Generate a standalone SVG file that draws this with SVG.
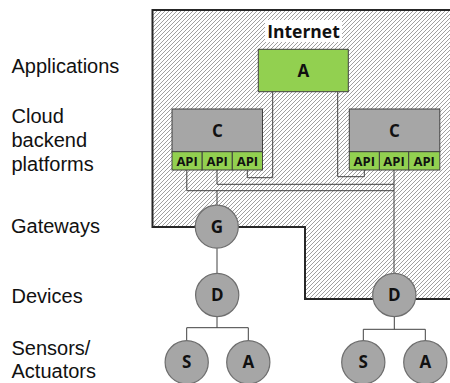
<svg xmlns="http://www.w3.org/2000/svg" width="450" height="383" viewBox="0 0 450 383">
  <defs>
    <pattern id="hatch" width="4" height="4" patternUnits="userSpaceOnUse">
      <rect width="4" height="4" fill="#ffffff"/>
      <path d="M-1,1 L1,-1 M0,4 L4,0 M3,5 L5,3" stroke="#959595" stroke-width="0.9"/>
    </pattern>
    <style>
      .label { font-family: "Liberation Sans", Arial, sans-serif; font-size: 20px; fill: #111; }
      .bold { font-family: "Open Sans", "Noto Sans", sans-serif; font-weight: bold; fill: #111; text-anchor: middle; }
      .box { stroke: #404040; stroke-width: 1; }
      .green { fill: #92d050; }
      .grey { fill: #a6a6a6; }
      .node { fill: #a6a6a6; stroke: #6e6e6e; stroke-width: 1.2; }
      .wire { fill: none; stroke: #404040; stroke-width: 1; }
      .api { font-size: 13px; }
      .big { font-size: 17px; }
    </style>
  </defs>

  <rect width="450" height="383" fill="#ffffff"/>

  <!-- Internet zone -->
  <g id="internet">
    <path d="M152.5,10 H452 V299 H305 V227 H152.5 Z" fill="url(#hatch)" stroke="#262626" stroke-width="2"/>
    <rect x="265" y="20" width="77" height="22" fill="#ffffff"/>
    <text class="bold" x="303.5" y="37.5" font-size="17.5">Internet</text>
  </g>

  <!-- Layer labels -->
  <g id="labels">
    <text class="label" x="11.5" y="72.5">Applications</text>
    <text class="label" x="11.5" y="122.5">Cloud</text>
    <text class="label" x="11.5" y="146.5">backend</text>
    <text class="label" x="11.5" y="170.5">platforms</text>
    <text class="label" x="11" y="233.3">Gateways</text>
    <text class="label" x="11.5" y="302.5">Devices</text>
    <text class="label" x="11.5" y="354.8">Sensors/</text>
    <text class="label" x="11.5" y="378.3">Actuators</text>
  </g>

  <!-- Connectors -->
  <g id="connectors">
    <path class="wire" d="M272.7,91.7 V177.7 H247.3 V170"/>
    <path class="wire" d="M337.7,91.7 V176.7 H364.3 V170"/>
    <path class="wire" d="M217,170 V184.3 H394"/>
    <path class="wire" d="M186.8,170 V190.7 H394"/>
    <path class="wire" d="M394,170 V273.3"/>
    <path class="wire" d="M217,190.7 V205"/>
    <path class="wire" d="M217,248.3 V273.3"/>
    <path class="wire" d="M217,316.7 V327.7 M186.7,340.6 V327.7 H248.3 V340.6"/>
    <path class="wire" d="M394.3,316.7 V329.3 M363.3,340.6 V329.3 H425.3 V340.6"/>
  </g>

  <!-- Application -->
  <g id="app">
    <rect class="box green" x="258.3" y="49.3" width="90" height="42.4"/>
    <text class="bold big" x="303.3" y="77">A</text>
  </g>

  <!-- Cloud platform, left -->
  <g id="cloud-left">
    <rect class="box grey" x="172" y="109" width="90.5" height="42.7"/>
    <rect class="box green" x="172" y="151.7" width="30.2" height="18.3"/>
    <rect class="box green" x="202.2" y="151.7" width="30.1" height="18.3"/>
    <rect class="box green" x="232.3" y="151.7" width="30.2" height="18.3"/>
    <text class="bold big" x="217.3" y="136.7">C</text>
    <text class="bold api" x="187.1" y="165.6">API</text>
    <text class="bold api" x="217.2" y="165.6">API</text>
    <text class="bold api" x="247.4" y="165.6">API</text>
  </g>

  <!-- Cloud platform, right -->
  <g id="cloud-right">
    <rect class="box grey" x="349.3" y="109" width="90.5" height="42.7"/>
    <rect class="box green" x="349.3" y="151.7" width="30.1" height="18.3"/>
    <rect class="box green" x="379.4" y="151.7" width="29.3" height="18.3"/>
    <rect class="box green" x="408.7" y="151.7" width="31.1" height="18.3"/>
    <text class="bold big" x="394.5" y="136.7">C</text>
    <text class="bold api" x="364.3" y="165.6">API</text>
    <text class="bold api" x="394" y="165.6">API</text>
    <text class="bold api" x="424.2" y="165.6">API</text>
  </g>

  <!-- Gateway -->
  <g id="gateway">
    <circle class="node" cx="216.8" cy="226.7" r="21.5"/>
    <text class="bold big" x="216.8" y="232.7">G</text>
  </g>

  <!-- Devices -->
  <g id="device-left">
    <circle class="node" cx="217.2" cy="295" r="21.6"/>
    <text class="bold big" x="217.2" y="301">D</text>
  </g>
  <g id="device-right">
    <circle class="node" cx="394.3" cy="295" r="21.6"/>
    <text class="bold big" x="394.3" y="301">D</text>
  </g>

  <!-- Sensors / actuators -->
  <g id="sensor-left">
    <circle class="node" cx="186.7" cy="362.3" r="21.6"/>
    <text class="bold big" x="186.7" y="368.3">S</text>
  </g>
  <g id="actuator-left">
    <circle class="node" cx="248.3" cy="362.3" r="21.6"/>
    <text class="bold big" x="248.3" y="368.3">A</text>
  </g>
  <g id="sensor-right">
    <circle class="node" cx="363.3" cy="362.3" r="21.6"/>
    <text class="bold big" x="363.3" y="368.3">S</text>
  </g>
  <g id="actuator-right">
    <circle class="node" cx="425.3" cy="362.3" r="21.6"/>
    <text class="bold big" x="425.3" y="368.3">A</text>
  </g>
</svg>
